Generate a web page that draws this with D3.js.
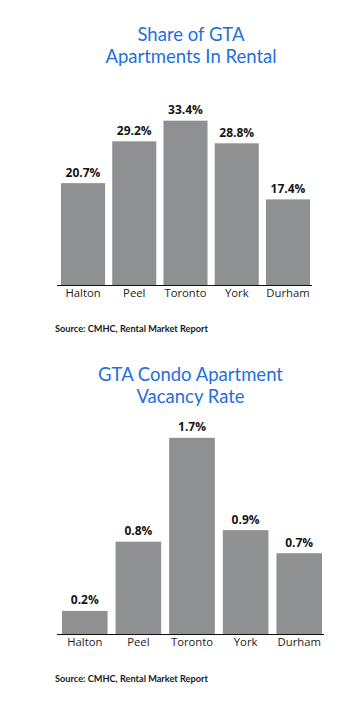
<!DOCTYPE html>
<html>
<head>
<meta charset="utf-8">
<script src="https://cdn.jsdelivr.net/npm/d3@7"></script>
<style>
  html, body { margin: 0; padding: 0; background: #ffffff; }
  svg { display: block; }
</style>
</head>
<body>
<svg id="chart" width="341" height="707"></svg>
<script>
// Regions shared by both panels
const regions = ["Halton", "Peel", "Toronto", "York", "Durham"];

// Panel 1: share of GTA apartments in rental (%)
const rentalShare = [20.7, 29.2, 33.4, 28.8, 17.4];
const rentalTitle = ["Share of GTA", "Apartments In Rental"];

// Panel 2: condo apartment vacancy rate (%)
const vacancyRate = [0.2, 0.8, 1.7, 0.9, 0.7];
const vacancyTitle = ["GTA Condo Apartment", "Vacancy Rate"];

const sourceText = "Source: CMHC, Rental Market Report";

const svg = d3.select("#chart");
const BLUE = "#1f6fdc";
const BAR = "#8e9091";
const INK = "#161616";

function drawPanel(opts) {
  const g = svg.append("g");

  // Title (two centred lines)
  g.append("text")
    .attr("x", opts.titleX)
    .attr("y", opts.titleY)
    .attr("text-anchor", "middle")
    .attr("font-family", "Lato, 'Open Sans', sans-serif")
    .attr("font-size", 18.5)
    .attr("fill", BLUE)
    .selectAll("tspan")
    .data(opts.title)
    .join("tspan")
    .attr("x", opts.titleX)
    .attr("dy", (d, i) => i === 0 ? 0 : 22)
    .text(d => d);

  const x = d3.scaleBand()
    .domain(regions)
    .range(opts.xRange)
    .paddingInner(opts.padding)
    .paddingOuter(0);

  const y = d3.scaleLinear()
    .domain(opts.yDomain)
    .range([opts.baseline, opts.top]);

  const data = regions.map((r, i) => ({ region: r, value: opts.values[i] }));

  // Bars
  g.selectAll("rect.bar")
    .data(data)
    .join("rect")
    .attr("class", "bar")
    .attr("x", d => x(d.region))
    .attr("width", x.bandwidth())
    .attr("y", d => y(d.value))
    .attr("height", d => y(0) - y(d.value))
    .attr("fill", BAR);

  // Value labels
  g.selectAll("text.val")
    .data(data)
    .join("text")
    .attr("class", "val")
    .attr("x", d => x(d.region) + x.bandwidth() / 2)
    .attr("y", d => y(d.value) - 6.5)
    .attr("text-anchor", "middle")
    .attr("font-family", "'Open Sans', sans-serif")
    .attr("font-weight", 700)
    .attr("font-size", 12)
    .attr("fill", INK)
    .text(d => d.value.toFixed(1) + "%");

  // Baseline axis with category labels
  const axis = d3.axisBottom(x).tickSize(0).tickPadding(0);
  const ax = g.append("g")
    .attr("transform", `translate(0,${opts.baseline})`)
    .call(axis);
  ax.select(".domain")
    .attr("d", `M${opts.axisExtent[0]},0.5H${opts.axisExtent[1]}`)
    .attr("stroke", "#111")
    .attr("stroke-width", 1.2);
  ax.selectAll(".tick text")
    .attr("dy", 0)
    .attr("y", 11.5)
    .attr("font-family", "'Open Sans', sans-serif")
    .attr("font-size", 11.3)
    .attr("fill", "#1c1c1c");

  // Source note
  g.append("text")
    .attr("x", 55)
    .attr("y", opts.sourceY)
    .attr("font-family", "Lato, 'Open Sans', sans-serif")
    .attr("font-weight", 700)
    .attr("font-size", 9.2)
    .attr("fill", "#1a1a1a")
    .text(sourceText);
}

drawPanel({
  title: rentalTitle,
  titleX: 191,
  titleY: 41,
  values: rentalShare,
  xRange: [61, 310],
  padding: 0.14,
  yDomain: [0, 40],
  baseline: 285,
  top: 88.2,
  axisExtent: [57, 312],
  sourceY: 332
});

drawPanel({
  title: vacancyTitle,
  titleX: 190.5,
  titleY: 380.7,
  values: vacancyRate,
  xRange: [62, 322],
  padding: 0.15,
  yDomain: [0, 2],
  baseline: 634,
  top: 403.2,
  axisExtent: [57, 324],
  sourceY: 682
});
</script>
</body>
</html>
